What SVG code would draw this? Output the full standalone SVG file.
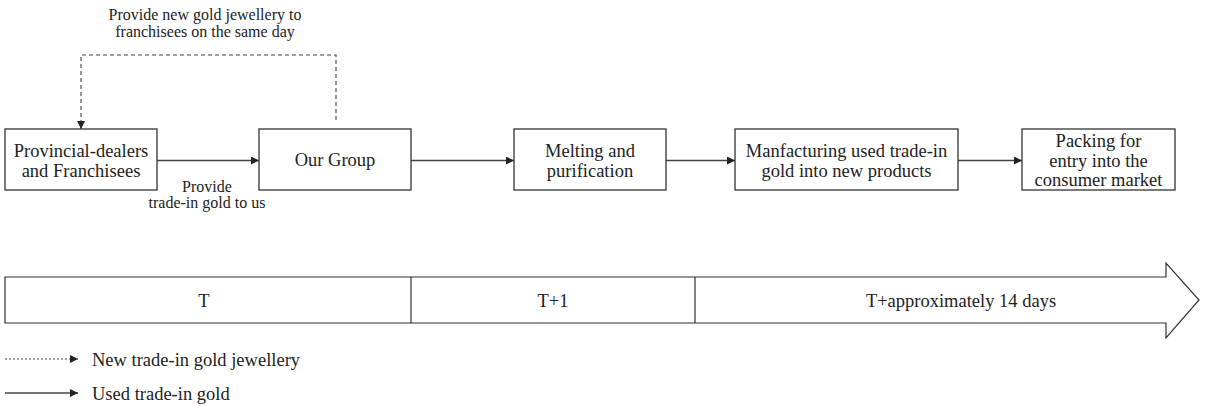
<svg xmlns="http://www.w3.org/2000/svg" width="1212" height="406" viewBox="0 0 1212 406">
  <style>
    text { font-family: "Liberation Serif", "Times New Roman", serif; fill: #222; }
    .node { fill: #fff; stroke: #333; stroke-width: 1.3; }
    .lbl { font-size: 18.5px; text-anchor: middle; }
    .small { font-size: 16px; text-anchor: middle; }
    .tl { font-size: 18.5px; text-anchor: middle; }
    .leg { font-size: 18.5px; }
    .solid { fill: none; stroke: #444; stroke-width: 1.3; }
    .dash { fill: none; stroke: #444; stroke-width: 1.1; stroke-dasharray: 4 3; }
    .dot { fill: none; stroke: #444; stroke-width: 1; stroke-dasharray: 2 2; }
    .band { fill: #fff; stroke: #333; stroke-width: 1.2; }
  </style>
  <defs>
    <marker id="head" viewBox="0 0 10 10" refX="10" refY="5" markerWidth="8" markerHeight="8" markerUnits="userSpaceOnUse" orient="auto">
      <path d="M0,0 L10,5 L0,10 z" fill="#222"/>
    </marker>
  </defs>

  <!-- connectors -->
  <g id="connectors">
    <path class="dash" d="M336,120 V55 H81 V129" marker-end="url(#head)"/>
    <line class="solid" x1="157" y1="160.5" x2="259" y2="160.5" marker-end="url(#head)"/>
    <line class="solid" x1="411" y1="160.5" x2="514" y2="160.5" marker-end="url(#head)"/>
    <line class="solid" x1="666" y1="160.5" x2="735" y2="160.5" marker-end="url(#head)"/>
    <line class="solid" x1="958" y1="160.5" x2="1022" y2="160.5" marker-end="url(#head)"/>
    <text class="small" x="205" y="20">Provide new gold jewellery to</text>
    <text class="small" x="205" y="37">franchisees on the same day</text>
    <text class="small" x="207" y="192">Provide</text>
    <text class="small" x="207" y="208">trade-in gold to us</text>
  </g>

  <!-- process nodes -->
  <g id="dealers">
    <rect class="node" x="5" y="129" width="152" height="61"/>
    <text class="lbl" x="81" y="157">Provincial-dealers</text>
    <text class="lbl" x="81" y="177">and Franchisees</text>
  </g>
  <g id="group">
    <rect class="node" x="259" y="129" width="152" height="61"/>
    <text class="lbl" x="335" y="166">Our Group</text>
  </g>
  <g id="melting">
    <rect class="node" x="514" y="129" width="152" height="61"/>
    <text class="lbl" x="590" y="157">Melting and</text>
    <text class="lbl" x="590" y="177">purification</text>
  </g>
  <g id="manufacturing">
    <rect class="node" x="735" y="129" width="223" height="61"/>
    <text class="lbl" x="846.5" y="157">Manfacturing used trade-in</text>
    <text class="lbl" x="846.5" y="177">gold into new products</text>
  </g>
  <g id="packing">
    <rect class="node" x="1022" y="129" width="153" height="61"/>
    <text class="lbl" x="1098.5" y="147">Packing for</text>
    <text class="lbl" x="1098.5" y="167">entry into the</text>
    <text class="lbl" x="1098.5" y="186">consumer market</text>
  </g>

  <!-- timeline arrow -->
  <g id="timeline">
    <path class="band" d="M5,277 H1166 V263 L1199,300 L1166,338 V323 H5 Z"/>
    <line x1="411" y1="277" x2="411" y2="323" stroke="#333" stroke-width="1.2"/>
    <line x1="695" y1="277" x2="695" y2="323" stroke="#333" stroke-width="1.2"/>
    <text class="tl" x="204" y="307">T</text>
    <text class="tl" x="553" y="307">T+1</text>
    <text class="tl" x="961" y="307">T+approximately 14 days</text>
  </g>

  <!-- legend -->
  <g id="legend">
    <line class="dot" x1="5" y1="359" x2="78" y2="359" marker-end="url(#head)"/>
    <text class="leg" x="92" y="366">New trade-in gold jewellery</text>
    <line class="solid" x1="5" y1="393" x2="78" y2="393" marker-end="url(#head)"/>
    <text class="leg" x="92" y="400">Used trade-in gold</text>
  </g>
</svg>
